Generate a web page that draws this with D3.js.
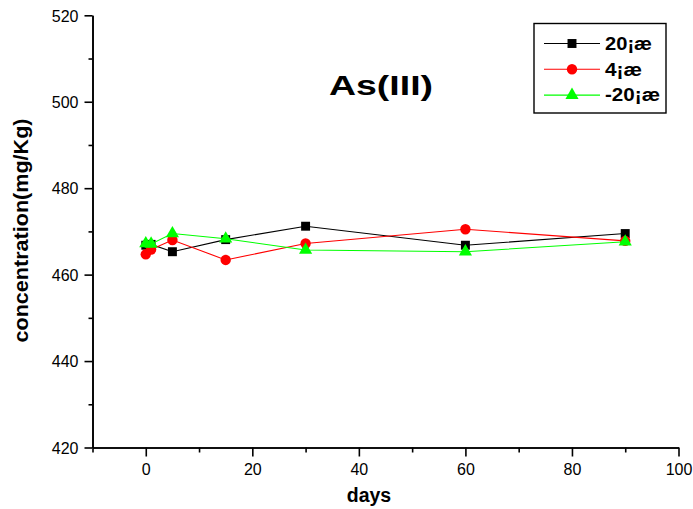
<!DOCTYPE html>
<html>
<head>
<meta charset="utf-8">
<script src="https://cdn.jsdelivr.net/npm/d3@7"></script>
<style>
  body { margin: 0; background: #fff; }
  svg { display: block; font-family: "Liberation Sans", Arial, sans-serif; }
</style>
</head>
<body>
<svg id="chart" width="693" height="509"></svg>
<script>
// Storage time (days) and measured concentration (mg/Kg) at each temperature
const days = [0, 1, 5, 15, 30, 60, 90];
const series20 = [466.8, 467.0, 465.3, 468.1, 471.2, 466.8, 469.5];
const series4 = [464.7, 465.8, 468.0, 463.4, 467.2, 470.5, 467.8];
const seriesMinus20 = [467.2, 467.1, 469.5, 468.3, 465.7, 465.3, 467.6];
const seriesNames = ["20¡æ", "4¡æ", "-20¡æ"];
const xTicks = [0, 20, 40, 60, 80, 100];
const yTicks = [420, 440, 460, 480, 500, 520];

const svg = d3.select("#chart");
const margin = { left: 92.5, right: 14.5, top: 15.3, bottom: 61.5 };
const W = 693, H = 509;

const x = d3.scaleLinear().domain([-10, 100]).range([margin.left, W - margin.right]);
const y = d3.scaleLinear().domain([420, 520]).range([H - margin.bottom, margin.top]);

// Axes: major ticks with labels, minor ticks halfway between
svg.append("g").attr("transform", `translate(0,${y(420)})`)
  .call(d3.axisBottom(x).tickValues(xTicks).tickSize(9).tickPadding(7).tickSizeOuter(0));
svg.append("g").attr("transform", `translate(0,${y(420)})`)
  .call(d3.axisBottom(x).tickValues(d3.range(-10, 100, 20)).tickSize(5).tickFormat("").tickSizeOuter(0));
const yAxis = svg.append("g").attr("transform", `translate(${x(-10)},0)`)
  .call(d3.axisLeft(y).tickValues(yTicks).tickSize(8).tickPadding(6).tickSizeOuter(0));
svg.append("g").attr("transform", `translate(${x(-10)},0)`)
  .call(d3.axisLeft(y).tickValues(d3.range(430, 520, 20)).tickSize(4).tickFormat("").tickSizeOuter(0));

svg.selectAll(".domain, .tick line").attr("stroke", "#000").attr("stroke-width", 1.6);
svg.selectAll(".tick text").attr("font-size", 16).attr("fill", "#000")
  .attr("font-family", "Liberation Sans, Arial, sans-serif");
yAxis.selectAll(".tick text").attr("dy", "0.36em");

// Axis titles and chart title
svg.append("text").attr("x", 369).attr("y", 502).attr("text-anchor", "middle")
  .attr("font-weight", "bold").attr("font-size", 19.5).text("days");
svg.append("text").attr("transform", `translate(28,230.5) rotate(-90)`)
  .attr("text-anchor", "middle").attr("font-weight", "bold").attr("font-size", 20.5)
  .attr("textLength", 224).attr("lengthAdjust", "spacingAndGlyphs")
  .text("concentration(mg/Kg)");
svg.append("text").attr("x", 381).attr("y", 95).attr("text-anchor", "middle")
  .attr("font-weight", "bold").attr("font-size", 27.5)
  .attr("textLength", 104).attr("lengthAdjust", "spacingAndGlyphs").text("As(III)");

// Series
const seriesData = [
  { name: seriesNames[0], values: series20, color: "#000000", symbol: d3.symbolSquare, size: 80, w: 47 },
  { name: seriesNames[1], values: series4, color: "#ff0000", symbol: d3.symbolCircle, size: 85, w: 37 },
  { name: seriesNames[2], values: seriesMinus20, color: "#00ff00", symbol: d3.symbolTriangle, size: 75, w: 55 }
];

const line = d3.line().x(d => x(d[0])).y(d => y(d[1]));

seriesData.forEach(s => {
  const pts = days.map((d, i) => [d, s.values[i]]);
  svg.append("path").datum(pts).attr("d", line)
    .attr("fill", "none").attr("stroke", s.color).attr("stroke-width", 1.1);
  svg.append("g").selectAll("path").data(pts).join("path")
    .attr("transform", d => `translate(${x(d[0])},${y(d[1])})`)
    .attr("d", d3.symbol().type(s.symbol).size(s.size))
    .attr("fill", s.color);
});

// Legend
const lg = svg.append("g");
lg.append("rect").attr("x", 534).attr("y", 23.5).attr("width", 132).attr("height", 89.5)
  .attr("fill", "#fff").attr("stroke", "#000").attr("stroke-width", 1.4);
seriesData.forEach((s, i) => {
  const cy = 43.5 + i * 25.8;
  lg.append("line").attr("x1", 544).attr("x2", 600).attr("y1", cy).attr("y2", cy)
    .attr("stroke", s.color).attr("stroke-width", 1.1);
  lg.append("path").attr("transform", `translate(572,${cy})`)
    .attr("d", d3.symbol().type(s.symbol).size(s.size)).attr("fill", s.color);
  lg.append("text").attr("x", 605).attr("y", cy + 6.2)
    .attr("font-weight", "bold").attr("font-size", 18)
    .attr("textLength", s.w).attr("lengthAdjust", "spacingAndGlyphs").text(s.name);
});
</script>
</body>
</html>
